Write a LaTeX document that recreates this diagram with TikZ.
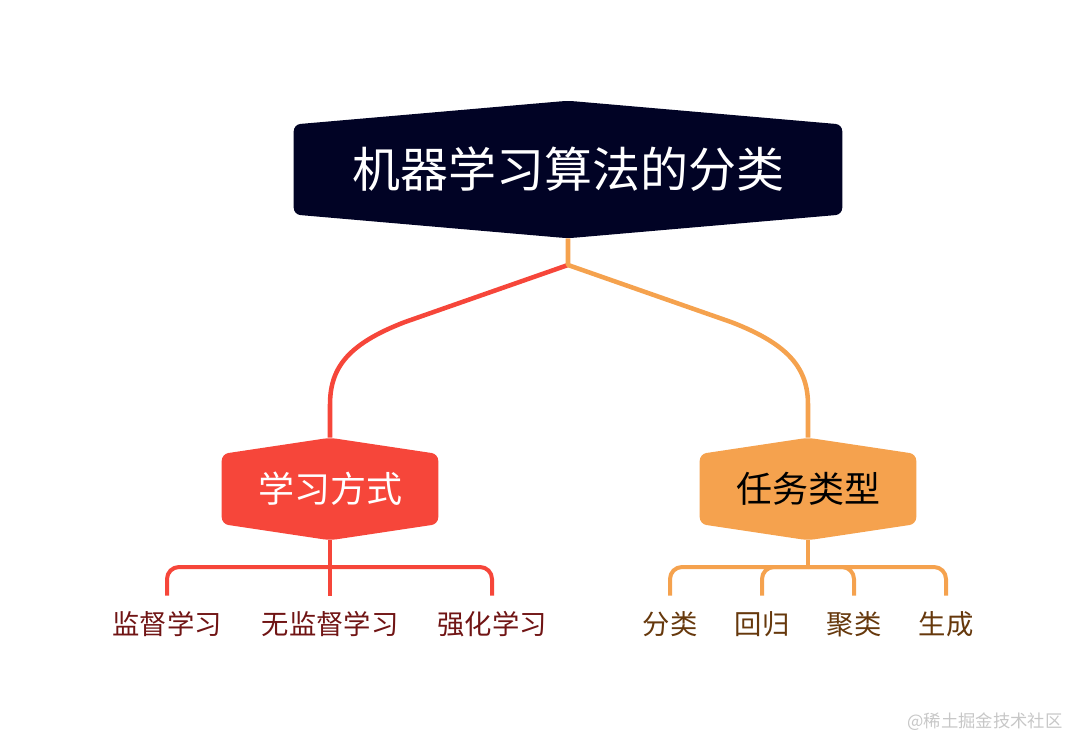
\documentclass[tikz,border=0pt]{standalone}
\usepackage{fontspec}
\setmainfont{Noto Sans CJK SC}
\usetikzlibrary{backgrounds}
\definecolor{navy}{RGB}{1,3,37}
\definecolor{tomato}{RGB}{246,70,58}
\definecolor{apricot}{RGB}{245,162,78}
\definecolor{wine}{RGB}{112,20,20}
\definecolor{umber}{RGB}{102,56,12}
\newcommand\hexfill[3]{\fill[#2,rounded corners=5pt] (#1.west) -- ([shift={(0,-#3)}]#1.west) -- (#1.north) -- ([shift={(0,-#3)}]#1.east) -- ([shift={(0,#3)}]#1.east) -- (#1.south) -- ([shift={(0,#3)}]#1.west) -- cycle;}
\begin{document}
\begin{tikzpicture}[x=0.75pt,y=-0.75pt,
root/.style={minimum width=411pt,minimum height=102.75pt,inner sep=0pt,text=white,font=\fontsize{36}{36}\selectfont},
kind/.style={minimum width=162pt,minimum height=76.5pt,inner sep=0pt,font=\fontsize{27}{27}\selectfont},
leaf/.style={minimum height=42pt,inner sep=0pt,font=\fontsize{20.5}{20.5}\selectfont},
link/.style={line width=3.4pt,line join=round},
twig/.style={line width=3pt,rounded corners=9pt}
]
\useasboundingbox (0,0) rectangle (1086,754);
\node[root] (ml) at (568,169.5) {机器学习算法的分类};
\node[kind,text=white] (way) at (330,489) {学习方式};
\node[kind,text=black] (task) at (808,489) {任务类型};
\node[leaf,text=wine] (sup) at (167,624) {监督学习};
\node[leaf,text=wine] (unsup) at (330,624) {无监督学习};
\node[leaf,text=wine] (rl) at (492,624) {强化学习};
\node[leaf,text=umber] (cls) at (670,624) {分类};
\node[leaf,text=umber] (reg) at (762,624) {回归};
\node[leaf,text=umber] (clu) at (854,624) {聚类};
\node[leaf,text=umber] (gen) at (946,624) {生成};
\node[text=black!22,font=\fontsize{13}{13}\selectfont] (mark) at (985,722) {@稀土掘金技术社区};
\begin{scope}[on background layer]
\hexfill{ml}{navy}{45}
\hexfill{way}{tomato}{35}
\hexfill{task}{apricot}{35}
\end{scope}
\coordinate (fork) at (568,265);
\coordinate (wayfork) at (330,567);
\coordinate (taskfork) at (808,567);
\draw[link,tomato] (fork) -- (405,322) .. controls (345,345) and (330,370) .. (330,405) -- (way.north);
\draw[link,apricot] (ml.south) -- (fork) -- (731,322) .. controls (791,345) and (808,370) .. (808,405) -- (task.north);
\draw[twig,tomato] (way.south) -- (unsup.north);
\foreach \n in {sup,rl} \draw[twig,tomato] (wayfork) -| (\n.north);
\draw[twig,apricot] (task.south) -- (taskfork);
\foreach \n in {cls,reg,clu,gen} \draw[twig,apricot] (taskfork) -| (\n.north);
\end{tikzpicture}
\end{document}
